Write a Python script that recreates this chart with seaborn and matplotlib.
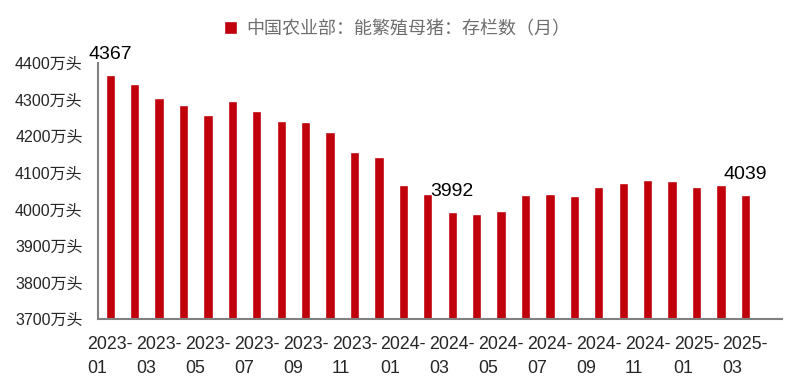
import matplotlib
matplotlib.use("Agg")
import matplotlib.pyplot as plt
import seaborn as sns
import pandas as pd
import numpy as np
from matplotlib import font_manager

months = ["2023-01","2023-02","2023-03","2023-04","2023-05","2023-06","2023-07","2023-08","2023-09",
          "2023-10","2023-11","2023-12","2024-01","2024-02","2024-03","2024-04","2024-05","2024-06",
          "2024-07","2024-08","2024-09","2024-10","2024-11","2024-12","2025-01","2025-02","2025-03"]
values = [4367, 4343, 4305, 4284, 4258, 4296, 4270, 4241, 4240, 4210, 4158, 4142, 4067, 4042,
          3992, 3986, 3996, 4038, 4042, 4036, 4062, 4073, 4080, 4078, 4062, 4066, 4039]
yticks = [3700, 3800, 3900, 4000, 4100, 4200, 4300, 4400]
annot_idx = [0, 14, 26]
series_name = "中国农业部：能繁殖母猪：存栏数（月）"

sns.set_style("white")
plt.rcParams['font.family'] = ['Liberation Sans', 'Noto Sans CJK SC', 'DejaVu Sans']

names = {f.name for f in font_manager.fontManager.ttflist}
narrow = 'Liberation Sans Narrow' if 'Liberation Sans Narrow' in names else 'Liberation Sans'

df = pd.DataFrame({"month": months, "value": values})

fig = plt.figure(figsize=(8.05, 3.9), dpi=100)
ax = fig.add_axes([98/805, 1-319/390, (782-98)/805, (319-63)/390])

color = "#C0000B"
sns.barplot(data=df, x="month", y="value", color=color, saturation=1, width=0.38,
            ax=ax, label=series_name)

ax.set_ylim(3700, 4400)
ax.set_xlim(-0.5, 27.5)
ax.set_yticks(yticks)
ax.set_yticklabels([f"{v}万头" for v in yticks], fontsize=11.5)

# major ticks at group boundaries, labels at every other bar
ax.set_xticks(np.arange(-0.5, 28, 2))
ax.set_xticklabels([])
lab_pos = np.arange(0, len(months), 2)
ax.set_xticks(lab_pos, minor=True)
ax.set_xticklabels([months[i].replace("-", "-\n") for i in lab_pos], minor=True,
                   fontsize=12.8, multialignment='left', linespacing=1.55,
                   family=[narrow, 'Liberation Sans', 'DejaVu Sans'])
ax.tick_params(axis='x', which='minor', length=0, pad=12)
ax.tick_params(axis='x', which='major', length=6, width=1.5, color='#808080', direction='out')
ax.tick_params(axis='y', length=7, width=1.5, color='#808080', direction='out', pad=4)
ax.set_xlabel("")
ax.set_ylabel("")

for s in ['top', 'right']:
    ax.spines[s].set_visible(False)
for s in ['left', 'bottom']:
    ax.spines[s].set_color('#808080')
    ax.spines[s].set_linewidth(1.5)

for i in annot_idx:
    ax.annotate(str(values[i]), xy=(i, values[i]), xytext=(0, 11.5), textcoords='offset points',
                ha='center', va='baseline', fontsize=14, color='black', annotation_clip=False)

leg = ax.legend(loc='center', bbox_to_anchor=(397/805, 1-29/390), bbox_transform=fig.transFigure,
                frameon=False, handlelength=0.7, handleheight=0.7, handletextpad=0.5,
                prop={'family': ['Noto Sans CJK SC'], 'size': 13})
for t in leg.get_texts():
    t.set_color('#6e6e6e')

fig.savefig("out.png", dpi=100)
